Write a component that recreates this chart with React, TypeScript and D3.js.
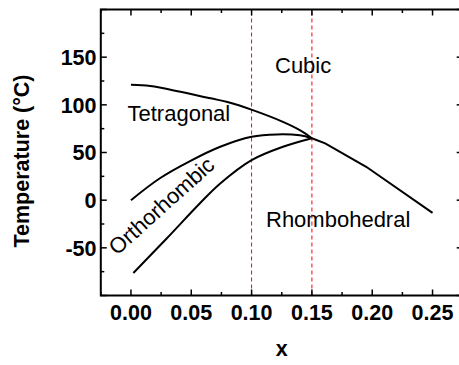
import React from "react";
import * as d3 from "d3";

// Phase boundaries (composition x, temperature in °C)
const tetragonalCubicX = [0, 0.016, 0.041, 0.066, 0.08, 0.101, 0.126, 0.14, 0.15];
const tetragonalCubicT = [121, 119.7, 113.7, 106.8, 103, 94.5, 82.2, 73.5, 65];

const orthoTetragonalX = [0, 0.024, 0.049, 0.074, 0.1, 0.121, 0.14, 0.15];
const orthoTetragonalT = [0, 23, 41, 56, 66.5, 69, 68, 65];

const rhomboOrthoX = [0.002, 0.0296, 0.057, 0.074, 0.1, 0.126, 0.15];
const rhomboOrthoT = [-76.4, -40.2, -3.5, 17.5, 42, 56, 65];

const cubicRhomboX = [0.15, 0.161, 0.195, 0.25];
const cubicRhomboT = [65, 59.5, 35, -13.3];

const boundaryX = [0.1, 0.15];

const xTicks = [0, 0.05, 0.1, 0.15, 0.2, 0.25];
const yTicks = [-50, 0, 50, 100, 150];

const W = 459;
const H = 365;
const left = 100.8;
const right = 462.7;
const top = 9.5;
const bottom = 295.5;

const x = d3.scaleLinear().domain([-0.025, 0.275]).range([left, right]);
const y = d3.scaleLinear().domain([-100, 200]).range([bottom, top]);

const smooth = d3
  .line<[number, number]>()
  .x((d) => x(d[0]))
  .y((d) => y(d[1]))
  .curve(d3.curveCatmullRom.alpha(0.5));

const straight = d3
  .line<[number, number]>()
  .x((d) => x(d[0]))
  .y((d) => y(d[1]));

const zip = (xs: number[], ts: number[]) =>
  xs.map((v, i) => [v, ts[i]] as [number, number]);

const font = "'Liberation Sans', Arial, sans-serif";

export default function App() {
  const xMinor = d3.range(-0.025, 0.2751, 0.025);
  const yMinor = d3.range(-100, 200.1, 25);
  const xMajorSet = new Set(xTicks.map((t) => t.toFixed(3)));
  const yMajorSet = new Set([-100, ...yTicks, 200].map(String));

  return (
    <svg
      width={W}
      height={H}
      style={{ position: "absolute", left: 0, top: 0, background: "#fff" }}
      fontFamily={font}
    >
      {/* dashed composition boundaries */}
      {boundaryX.map((b) => (
        <line
          key={b}
          x1={x(b)}
          x2={x(b)}
          y1={bottom}
          y2={top}
          stroke="#ff0000"
          strokeWidth={1}
          strokeDasharray="4,3"
        />
      ))}

      {/* phase boundary curves */}
      <g fill="none" stroke="#000" strokeWidth={2}>
        <path d={smooth(zip(tetragonalCubicX, tetragonalCubicT)) || ""} />
        <path d={smooth(zip(orthoTetragonalX, orthoTetragonalT)) || ""} />
        <path d={smooth(zip(rhomboOrthoX, rhomboOrthoT)) || ""} />
        <path d={straight(zip(cubicRhomboX, cubicRhomboT)) || ""} />
      </g>

      {/* phase labels */}
      <g fontSize={22} fill="#000">
        <text x={275} y={72.5}>Cubic</text>
        <text x={127.5} y={121}>Tetragonal</text>
        <text x={266} y={226.5}>Rhombohedral</text>
        <text transform="translate(117,256) rotate(-42)">Orthorhombic</text>
      </g>

      {/* frame */}
      <rect
        x={left}
        y={top}
        width={right - left}
        height={bottom - top}
        fill="none"
        stroke="#000"
        strokeWidth={2}
      />

      {/* ticks, inward on all four sides */}
      <g stroke="#000" strokeWidth={1.5}>
        {xMinor.map((t) => {
          const major = xMajorSet.has(t.toFixed(3));
          const len = major ? 6 : 3.5;
          return (
            <g key={"x" + t}>
              <line x1={x(t)} x2={x(t)} y1={bottom} y2={bottom - len} />
              <line x1={x(t)} x2={x(t)} y1={top} y2={top + len} />
            </g>
          );
        })}
        {yMinor.map((t) => {
          const major = yMajorSet.has(String(Math.round(t)));
          const len = major ? 6 : 3.5;
          return (
            <g key={"y" + t}>
              <line x1={left} x2={left + len} y1={y(t)} y2={y(t)} />
              <line x1={right} x2={right - len} y1={y(t)} y2={y(t)} />
            </g>
          );
        })}
      </g>

      {/* tick labels */}
      <g fontSize={21.5} fontWeight="bold" fill="#000">
        {xTicks.map((t) => (
          <text key={t} x={x(t)} y={320} textAnchor="middle">
            {t.toFixed(2)}
          </text>
        ))}
        {yTicks.map((t) => (
          <text key={t} x={96.5} y={y(t)} dy="0.36em" textAnchor="end">
            {t}
          </text>
        ))}
      </g>

      {/* axis titles */}
      <g fontSize={21.5} fontWeight="bold" fill="#000">
        <text x={(left + right) / 2} y={356} textAnchor="middle">
          x
        </text>
        <text
          transform={`translate(29,161) rotate(-90)`}
          textAnchor="middle"
        >
          Temperature (°C)
        </text>
      </g>
    </svg>
  );
}
